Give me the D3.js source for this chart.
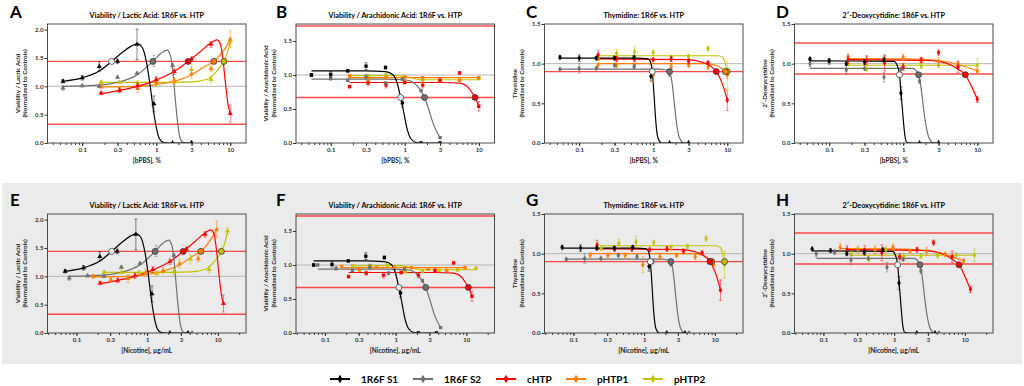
<!DOCTYPE html>
<html>
<head>
<meta charset="utf-8">
<script src="https://cdn.jsdelivr.net/npm/d3@7"></script>
<style>
  body { margin: 0; background: #fff; }
  text { font-family: Lato, "Open Sans", sans-serif; }
</style>
</head>
<body>
<svg id="chart" width="1024" height="386"></svg>
<script>
/**************************************************
 * Data
 **************************************************/

const seriesNames = ["1R6F S1", "1R6F S2", "cHTP", "pHTP1", "pHTP2"];
const seriesColors = ["#000000", "#707070", "#ff0000", "#ff8000", "#c3c300"];
const ecFills = ["#ffffff", "#707070", "#ff0000", "#ff8000", "#c3c300"];

// bPBS doses (%) - the two 1R6F sessions share one dilution series
const dose1R6F = [0.055, 0.1, 0.17, 0.3, 0.55, 0.93, 1.66, 3];
const doseHTP = [0.18, 0.32, 0.56, 1, 1.75, 3, 5.5, 10];
// nicotine (ug/mL) per 1 % bPBS
const nicotinePerPbs = [1.26, 1.44, 1.2, 0.96, 1.37];

const xTickValues = [0.1, 0.3, 1, 3, 10];
const bpbsDomain = [0.034, 16.3];
const nicotineDomain = [0.039, 25];

// Viability / Lactic acid
const lacticMean = [
  [1.09, 1.15, 1.35, 1.44, 1.74, 0.69, 0.0, 0.0],
  [0.97, 1.01, 1.0, 1.16, 1.23, 1.45, 1.37, 0.0],
  [0.88, 0.93, 1.01, 1.12, 1.26, 1.48, 1.74, 0.52],
  [1.0, 0.94, 0.96, 1.07, 1.1, 1.22, 1.31, 1.83],
  [1.07, 1.07, 1.06, 1.05, 1.08, 1.3, 1.12, 1.8]
];
const lacticErr = [
  [0.03, 0.04, 0.08, 0.04, 0.27, 0.14, 0, 0.02],
  [0.04, 0.02, 0.02, 0.02, 0.02, 0.1, 0.03, 0.01],
  [0.03, 0.04, 0.05, 0.05, 0.05, 0.04, 0.05, 0.15],
  [0.04, 0.04, 0.07, 0.06, 0.05, 0.07, 0.05, 0.15],
  [0.03, 0.02, 0.04, 0.05, 0.05, 0.08, 0.06, 0.06]
];
const lacticFit = [
  [[0.055,1.09],[0.1,1.15],[0.17,1.27],[0.25,1.44],[0.35,1.6],[0.46,1.71],[0.56,1.75],[0.65,1.68],[0.74,1.42],[0.83,1.0],[0.91,0.6],[1.0,0.28],[1.1,0.08],[1.25,0.01],[1.5,0],[3,0]],
  [[0.055,1.0],[0.17,1.02],[0.3,1.07],[0.55,1.2],[0.9,1.44],[1.15,1.58],[1.4,1.64],[1.55,1.55],[1.68,1.25],[1.8,0.8],[1.93,0.4],[2.07,0.12],[2.25,0.02],[2.5,0],[3,0]],
  [[0.18,0.87],[0.32,0.93],[0.56,1.0],[1,1.11],[1.75,1.26],[2.7,1.44],[4,1.62],[5.5,1.77],[6.6,1.82],[7.3,1.76],[8.0,1.45],[8.7,1.0],[9.4,0.65],[10,0.52]],
  [[0.18,0.99],[0.56,1.0],[1,1.03],[1.75,1.09],[3,1.2],[4.5,1.35],[6,1.44],[8,1.62],[10,1.82]],
  [[0.18,1.07],[1,1.07],[3,1.08],[5,1.13],[6.5,1.26],[8.2,1.44],[9.2,1.6],[10,1.8]]
];
const lacticEC = [[0.25,1.44],[0.9,1.44],[2.7,1.44],[6.0,1.44],[8.2,1.44]];
const lacticLimits = [1.44, 0.33];

// Viability / Arachidonic acid
const arachMean = [
  [1.0, 1.01, 1.06, 1.13, 1.11, 0.59, 0.0, 0.0],
  [1.0, 0.95, 0.92, 0.97, 0.88, 0.94, 0.77, 0.08],
  [0.83, 0.88, 0.85, 0.89, 0.85, 0.92, 1.03, 0.54],
  [0.98, 0.93, 0.96, 0.97, 0.96, 0.94, 0.92, 0.96],
  [0.99, 0.99, 1.0, 0.9, 0.91, 0.92, 0.93, 0.95]
];
const arachErr = [
  [0.02, 0.04, 0.02, 0.05, 0.02, 0.06, 0.01, 0.01],
  [0.01, 0.03, 0.02, 0.04, 0.02, 0.02, 0.02, 0.01],
  [0.02, 0.03, 0.04, 0.02, 0.04, 0.02, 0.02, 0.07],
  [0.01, 0.02, 0.02, 0.02, 0.01, 0.02, 0.02, 0.02],
  [0.02, 0.02, 0.02, 0.02, 0.02, 0.02, 0.02, 0.02]
];
const arachFit = [
  [[0.055,1.06],[0.3,1.06],[0.55,1.05],[0.7,1.0],[0.8,0.86],[0.88,0.67],[0.97,0.45],[1.07,0.22],[1.2,0.07],[1.4,0.01],[1.66,0],[3,0]],
  [[0.055,0.94],[0.5,0.94],[1.0,0.93],[1.3,0.89],[1.6,0.79],[1.85,0.67],[2.1,0.5],[2.45,0.27],[3,0.08]],
  [[0.18,0.89],[3,0.89],[5.5,0.88],[7,0.83],[8.1,0.74],[8.9,0.67],[10,0.55]],
  [[0.18,0.96],[10,0.96]],
  [[0.18,0.99],[0.8,0.99],[1.2,0.96],[1.8,0.93],[10,0.93]]
];
const arachEC = [[0.88,0.67],[1.85,0.67],[8.9,0.67],null,null];
const arachLimits = [1.72, 0.67];

// Thymidine
const thymMean = [
  [1.08, 1.07, 1.07, 1.07, 1.08, 0.84, 0.0, 0.0],
  [0.93, 0.94, 0.94, 0.98, 0.96, 0.9, 0.87, 0.0],
  [1.11, 1.06, 1.06, 1.05, 1.06, 1.03, 1.01, 0.54],
  [0.98, 0.98, 0.98, 0.86, 0.96, 0.98, 0.96, 0.86],
  [1.07, 1.13, 1.15, 1.14, 1.08, 1.09, 1.19, 0.86]
];
const thymErr = [
  [0.02, 0.04, 0.02, 0.02, 0.02, 0.06, 0, 0],
  [0.01, 0.06, 0.01, 0.02, 0.03, 0.02, 0.03, 0],
  [0.06, 0.03, 0.03, 0.02, 0.03, 0.03, 0.02, 0.13],
  [0.03, 0.03, 0.03, 0.1, 0.03, 0.02, 0.03, 0.05],
  [0.03, 0.05, 0.07, 0.03, 0.03, 0.03, 0.03, 0.17]
];
const thymFit = [
  [[0.055,1.07],[0.6,1.07],[0.85,1.06],[0.91,1.03],[0.97,0.9],[1.01,0.7],[1.05,0.45],[1.1,0.2],[1.17,0.05],[1.3,0],[3,0]],
  [[0.055,0.93],[1.2,0.93],[1.5,0.92],[1.66,0.9],[1.8,0.75],[1.95,0.45],[2.1,0.2],[2.3,0.05],[2.6,0],[3,0]],
  [[0.18,1.06],[3,1.05],[4.5,1.02],[5.5,0.99],[6.3,0.95],[7.1,0.9],[8.3,0.78],[9.2,0.66],[10,0.54]],
  [[0.18,1.0],[5,1.0],[7,0.98],[8.5,0.94],[9.4,0.9],[10,0.86]],
  [[0.18,1.1],[7.5,1.1],[8.7,1.08],[9.4,1.0],[10,0.9]]
];
const thymEC = [[0.97,0.9],[1.66,0.9],[7.1,0.9],[9.4,0.9],[10,0.9]];
const thymLimits = [0.9];

// 2'-Deoxycytidine
const deoxyMean = [
  [1.06, 1.04, 1.0, 1.02, 1.05, 0.63, 0.0, 0.0],
  [1.0, 1.02, 0.92, 0.94, 0.83, 0.93, 0.78, 0.0],
  [1.05, 1.04, 1.01, 0.96, 1.05, 1.14, 0.96, 0.55],
  [1.08, 1.05, 1.05, 1.08, 1.03, 1.03, 0.99, 0.91],
  [1.0, 0.93, 1.05, 0.96, 0.97, 0.98, 0.98, 0.98]
];
const deoxyErr = [
  [0.01, 0.02, 0.02, 0.03, 0.02, 0.08, 0, 0],
  [0.04, 0.03, 0.06, 0.01, 0.06, 0.02, 0.02, 0],
  [0.05, 0.06, 0.1, 0.04, 0.03, 0.03, 0.07, 0.04],
  [0.05, 0.04, 0.05, 0.04, 0.02, 0.05, 0.03, 0.02],
  [0.02, 0.02, 0.04, 0.05, 0.03, 0.03, 0.03, 0.08]
];
const deoxyFit = [
  [[0.055,1.035],[0.75,1.03],[0.85,0.95],[0.89,0.86],[0.94,0.6],[1.0,0.3],[1.05,0.1],[1.12,0.01],[1.3,0],[3,0]],
  [[0.055,0.94],[1.35,0.94],[1.52,0.9],[1.61,0.86],[1.75,0.68],[1.9,0.4],[2.1,0.15],[2.3,0.04],[2.6,0],[3,0]],
  [[0.18,1.05],[2,1.04],[3,1.03],[4.5,0.98],[5.5,0.93],[6.9,0.86],[8.3,0.72],[10,0.55]],
  [[0.18,1.065],[1,1.06],[3,1.04],[5.5,0.99],[10,0.91]],
  [[0.18,0.98],[10,0.98]]
];
const deoxyEC = [[0.89,0.86],[1.61,0.86],[6.9,0.86],null,null];
const deoxyLimits = [1.26, 0.87];

/**************************************************
 * Panel setup
 **************************************************/

const assays = [
  { title: "Viability / Lactic Acid: 1R6F vs. HTP", ylab: "Viability / Lactic Acid", yMax: 2.1,
    yTicks: [0, 0.5, 1, 1.5, 2], symbol: d3.symbolTriangle, mean: lacticMean, err: lacticErr,
    fit: lacticFit, ec: lacticEC, limits: lacticLimits },
  { title: "Viability / Arachidonic Acid: 1R6F vs. HTP", ylab: "Viability / Arachidonic Acid", yMax: 1.75,
    yTicks: [0, 0.5, 1, 1.5], symbol: d3.symbolSquare, mean: arachMean, err: arachErr,
    fit: arachFit, ec: arachEC, limits: arachLimits },
  { title: "Thymidine: 1R6F vs. HTP", ylab: "Thymidine", yMax: 1.5,
    yTicks: [0, 0.5, 1, 1.5], symbol: d3.symbolDiamond, mean: thymMean, err: thymErr,
    fit: thymFit, ec: thymEC, limits: thymLimits },
  { title: "2\u2032-Deoxycytidine: 1R6F vs. HTP", ylab: "2\u2032-Deoxycytidine", yMax: 1.5,
    yTicks: [0, 0.5, 1, 1.5], symbol: d3.symbolDiamond, mean: deoxyMean, err: deoxyErr,
    fit: deoxyFit, ec: deoxyEC, limits: deoxyLimits }
];

const letters = ["ABCD", "EFGH"];
const letterX = [10, 276, 526, 776];
const colLeft = [47.5, 296, 544.5, 794.5];
const plotW = 198.5;
const rowTop = [24, 214];
const plotH = 119;

const svg = d3.select("#chart");

// grey band behind the nicotine row
svg.append("rect")
  .attr("x", 2).attr("y", 183)
  .attr("width", 1020).attr("height", 181)
  .attr("fill", "#ebebeb");

function minorTicks(domain) {
  const out = [];
  for (let e = -2; e <= 2; e++) {
    for (let k = 1; k <= 9; k++) {
      const v = k * Math.pow(10, e);
      if (v >= domain[0] && v <= domain[1]) out.push(v);
    }
  }
  return out;
}

function drawPanel(row, col) {
  const a = assays[col];
  const left = colLeft[col], top = rowTop[row];
  const domain = row ? nicotineDomain : bpbsDomain;
  const x = d3.scaleLog().domain(domain).range([left, left + plotW]);
  const y = d3.scaleLinear().domain([0, a.yMax]).range([top + plotH, top]);
  // nicotine panels: convert % bPBS to ug/mL nicotine
  const conv = i => row ? nicotinePerPbs[i] : 1;

  const g = svg.append("g");
  const clipId = `clip-${row}-${col}`;
  g.append("clipPath").attr("id", clipId)
    .append("rect").attr("x", left).attr("y", top - 4)
    .attr("width", plotW).attr("height", plotH + 4);

  g.append("rect")
    .attr("x", left).attr("y", top).attr("width", plotW).attr("height", plotH)
    .attr("fill", row ? "#ebebeb" : "#fff");

  // reference lines
  g.append("line")
    .attr("x1", left).attr("x2", left + plotW)
    .attr("y1", y(1)).attr("y2", y(1))
    .attr("stroke", "#b4b4b4").attr("stroke-width", 1);
  a.limits.forEach(v => {
    g.append("line")
      .attr("x1", left).attr("x2", left + plotW)
      .attr("y1", y(v)).attr("y2", y(v))
      .attr("stroke", "#ff2a2a").attr("stroke-opacity", 0.85).attr("stroke-width", 1.4);
  });

  const plot = g.append("g").attr("clip-path", `url(#${clipId})`);
  const order = [4, 3, 2, 1, 0];

  // fitted curves
  order.forEach(i => {
    const line = d3.line()
      .x(d => x(d[0] * conv(i)))
      .y(d => y(d[1]))
      .curve(d3.curveMonotoneX);
    plot.append("path")
      .attr("d", line(a.fit[i]))
      .attr("fill", "none")
      .attr("stroke", seriesColors[i])
      .attr("stroke-width", 1.2);
  });

  // error bars and points
  order.forEach(i => {
    const doses = i < 2 ? dose1R6F : doseHTP;
    const pts = doses.map((d, j) => ({ c: d * conv(i), v: a.mean[i][j], e: a.err[i][j] }));
    const eb = plot.append("g")
      .attr("stroke", seriesColors[i]).attr("stroke-opacity", 0.6).attr("stroke-width", 0.8);
    pts.filter(p => p.e > 0).forEach(p => {
      const cx = x(p.c);
      eb.append("line").attr("x1", cx).attr("x2", cx).attr("y1", y(p.v - p.e)).attr("y2", y(p.v + p.e));
      eb.append("line").attr("x1", cx - 1.5).attr("x2", cx + 1.5).attr("y1", y(p.v + p.e)).attr("y2", y(p.v + p.e));
      eb.append("line").attr("x1", cx - 1.5).attr("x2", cx + 1.5).attr("y1", y(p.v - p.e)).attr("y2", y(p.v - p.e));
    });
    plot.append("g").selectAll("path")
      .data(pts)
      .join("path")
      .attr("d", d3.symbol().type(a.symbol).size(11))
      .attr("transform", p => `translate(${x(p.c)},${y(p.v)})`)
      .attr("fill", seriesColors[i]);
  });

  // threshold crossing markers
  order.forEach(i => {
    const ec = a.ec[i];
    if (!ec) return;
    g.append("circle")
      .attr("cx", x(ec[0] * conv(i))).attr("cy", y(ec[1]))
      .attr("r", 3)
      .attr("fill", ecFills[i])
      .attr("stroke", "#3a3a3a").attr("stroke-width", 0.8);
  });

  // frame
  g.append("rect")
    .attr("x", left).attr("y", top).attr("width", plotW).attr("height", plotH)
    .attr("fill", "none").attr("stroke", "#4a4a4a").attr("stroke-width", 1);

  // axes
  const xMinor = g.append("g")
    .attr("transform", `translate(0,${top + plotH})`)
    .call(d3.axisBottom(x).tickValues(minorTicks(domain)).tickSize(2).tickFormat(""));
  const xMajor = g.append("g")
    .attr("transform", `translate(0,${top + plotH})`)
    .call(d3.axisBottom(x).tickValues(xTickValues).tickSize(3).tickFormat(d3.format("~g")));
  const yAxis = g.append("g")
    .attr("transform", `translate(${left},0)`)
    .call(d3.axisLeft(y).tickValues(a.yTicks).tickSize(3).tickFormat(d3.format(".1f")));
  [xMinor, xMajor, yAxis].forEach(ax => {
    ax.select(".domain").remove();
    ax.selectAll("line").attr("stroke", "#333");
    ax.selectAll("text")
      .attr("font-size", "6px").attr("font-weight", "bold").attr("fill", "#333")
      .attr("font-family", "Lato, sans-serif");
  });
  xMajor.selectAll("text").attr("dy", "0.9em").attr("y", 4);
  yAxis.selectAll("text").attr("x", -4);

  // labels
  g.append("text")
    .attr("x", left + plotW / 2).attr("y", top - 6)
    .attr("text-anchor", "middle")
    .attr("font-size", "7.2px").attr("font-weight", "bold")
    .text(a.title);
  g.append("text")
    .attr("x", left + plotW / 2).attr("y", top + plotH + 20)
    .attr("text-anchor", "middle")
    .attr("font-size", "6.5px").attr("font-weight", "bold").attr("fill", "#222")
    .text(row ? "[Nicotine], \u00b5g/mL" : "[bPBS], %");
  const yl = g.append("text")
    .attr("transform", `translate(${left - 28},${top + plotH / 2}) rotate(-90)`)
    .attr("text-anchor", "middle")
    .attr("font-size", "6.3px").attr("font-weight", "bold").attr("fill", "#222");
  yl.append("tspan").attr("x", 0).attr("dy", 0).text(a.ylab);
  yl.append("tspan").attr("x", 0).attr("dy", "1.2em").text("(Normalized to Controls)");

  g.append("text")
    .attr("x", letterX[col]).attr("y", row ? top - 8.5 : top - 6.5)
    .attr("font-family", "Liberation Sans, Arial, sans-serif")
    .attr("font-size", "17px").attr("font-weight", "bold")
    .text(letters[row][col]);
}

[0, 1].forEach(r => [0, 1, 2, 3].forEach(c => drawPanel(r, c)));

/**************************************************
 * Legend
 **************************************************/

const legendX = [330, 413, 496, 566, 643];
const legend = svg.append("g").attr("transform", "translate(0,379)");
seriesNames.forEach((name, i) => {
  const lg = legend.append("g").attr("transform", `translate(${legendX[i]},0)`);
  lg.append("line").attr("x1", 0).attr("x2", 20).attr("y1", 0).attr("y2", 0)
    .attr("stroke", seriesColors[i]).attr("stroke-width", 2);
  lg.append("path")
    .attr("d", d3.symbol().type(d3.symbolDiamond).size(22))
    .attr("transform", "translate(10,0)")
    .attr("fill", seriesColors[i]);
  lg.append("text")
    .attr("x", 31).attr("y", 3.6)
    .attr("font-size", "10px").attr("font-weight", "bold")
    .text(name);
});
</script>
</body>
</html>
